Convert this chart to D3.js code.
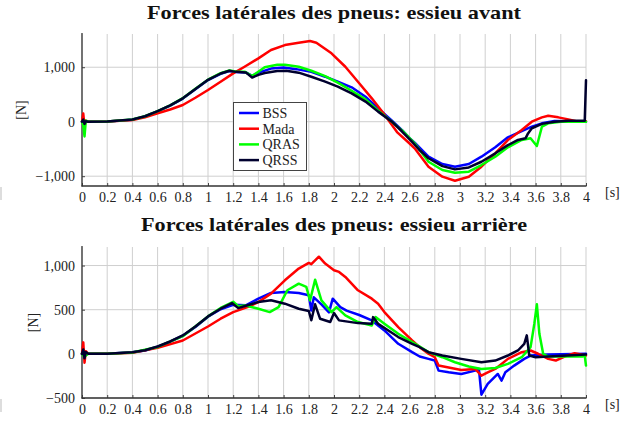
<!DOCTYPE html>
<html><head><meta charset="utf-8">
<script src="https://cdn.jsdelivr.net/npm/d3@7"></script>
<style>
body{margin:0;background:#fff;}
svg, svg text{font-family:'Liberation Serif','DejaVu Serif',serif !important;}
</style></head>
<body><svg id="c" width="623" height="421"></svg>
<script>
// ---------- DATA ----------
const seriesNames = ["BSS", "Mada", "QRAS", "QRSS"];
const seriesColors = ["#0000ff", "#ff0000", "#00ff00", "#00002e"];
const xTicks = [0,0.2,0.4,0.6,0.8,1,1.2,1.4,1.6,1.8,2,2.2,2.4,2.6,2.8,3,3.2,3.4,3.6,3.8,4];
const frontYTicks = [-1000, 0, 1000];
const rearYTicks = [-500, 0, 500, 1000];
const titles = ["Forces latérales des pneus: essieu avant", "Forces latérales des pneus: essieu arrière"];

// Front axle [t, N]
const frontBSS = [[0,0],[0.01,30],[0.02,-30],[0.03,10],[0.05,0],[0.2,4],[0.4,38],[0.5,98],[0.6,190],[0.7,295],[0.8,425],[0.9,595],[1.0,765],[1.1,880],[1.17,930],[1.22,912],[1.3,905],[1.35,840],[1.4,900],[1.5,975],[1.6,995],[1.7,965],[1.82,915],[1.93,826],[2.03,734],[2.14,631],[2.25,459],[2.35,245],[2.46,18],[2.54,-153],[2.6,-300],[2.64,-385],[2.75,-642],[2.86,-776],[2.96,-826],[3.07,-776],[3.17,-642],[3.28,-470],[3.38,-287],[3.49,-171],[3.57,-92],[3.65,-30],[3.75,12],[3.9,10],[4.0,0]];
const frontMada = [[0,0],[0.01,150],[0.02,-90],[0.03,20],[0.05,0],[0.2,3],[0.4,30],[0.5,80],[0.6,155],[0.7,225],[0.8,306],[0.9,440],[1.0,582],[1.1,734],[1.2,887],[1.29,1009],[1.4,1163],[1.5,1316],[1.61,1407],[1.72,1450],[1.81,1481],[1.86,1450],[1.98,1255],[2.09,1009],[2.19,734],[2.3,429],[2.4,130],[2.5,-190],[2.6,-400],[2.64,-489],[2.75,-826],[2.86,-1009],[2.96,-1083],[3.07,-1009],[3.17,-826],[3.28,-580],[3.38,-336],[3.49,-153],[3.57,0],[3.65,80],[3.7,110],[3.78,80],[3.86,43],[3.94,0],[4.0,10]];
const frontQRAS = [[0,0],[0.01,-60],[0.02,-270],[0.03,20],[0.05,0],[0.2,5],[0.4,40],[0.5,100],[0.6,195],[0.7,300],[0.8,432],[0.9,605],[1.0,772],[1.1,890],[1.17,940],[1.22,920],[1.29,918],[1.35,838],[1.45,998],[1.55,1046],[1.61,1046],[1.72,1009],[1.82,936],[1.93,838],[2.03,716],[2.14,569],[2.25,411],[2.35,202],[2.46,0],[2.51,-104],[2.55,-180],[2.6,-300],[2.64,-397],[2.75,-734],[2.86,-886],[2.96,-936],[3.07,-917],[3.17,-795],[3.28,-642],[3.38,-470],[3.49,-336],[3.56,-305],[3.61,-446],[3.65,-92],[3.7,-30],[3.8,0],[4.0,0]];
const frontQRSS = [[0,0],[0.01,40],[0.02,-40],[0.03,10],[0.05,0],[0.2,5],[0.4,40],[0.5,100],[0.6,195],[0.7,300],[0.8,430],[0.9,600],[1.0,770],[1.1,885],[1.17,935],[1.22,915],[1.3,905],[1.35,810],[1.4,860],[1.45,895],[1.55,930],[1.62,935],[1.72,900],[1.82,825],[1.93,735],[2.03,645],[2.14,520],[2.25,370],[2.35,185],[2.46,0],[2.54,-180],[2.62,-370],[2.68,-520],[2.75,-670],[2.86,-815],[2.96,-875],[3.07,-840],[3.17,-735],[3.28,-580],[3.38,-430],[3.46,-335],[3.52,-305],[3.54,-215],[3.57,-120],[3.65,-40],[3.75,0],[3.86,18],[3.99,18],[4.0,760]];

// Rear axle [t, N]
const rearBSS = [[0,0],[0.01,40],[0.02,-40],[0.03,10],[0.05,0],[0.2,2],[0.4,17],[0.5,38],[0.6,80],[0.7,138],[0.8,205],[0.9,305],[1.0,420],[1.1,505],[1.2,555],[1.3,549],[1.4,625],[1.5,690],[1.61,701],[1.72,690],[1.8,663],[1.82,490],[1.84,640],[1.9,560],[1.96,470],[1.99,625],[2.05,530],[2.1,490],[2.2,440],[2.3,378],[2.4,265],[2.51,114],[2.62,19],[2.68,-30],[2.75,-57],[2.8,-76],[2.83,-190],[2.91,-209],[3.01,-228],[3.12,-190],[3.15,-171],[3.17,-463],[3.22,-341],[3.3,-228],[3.33,-303],[3.36,-209],[3.43,-133],[3.51,-57],[3.56,-19],[3.7,-8],[4.0,1]];
const rearMada = [[0,0],[0.01,130],[0.02,-100],[0.03,30],[0.05,0],[0.2,2],[0.4,12],[0.6,68],[0.8,151],[1.0,310],[1.1,398],[1.2,473],[1.33,538],[1.4,587],[1.5,682],[1.61,833],[1.72,966],[1.8,1030],[1.82,1015],[1.88,1100],[1.93,1022],[2.0,947],[2.04,928],[2.09,871],[2.19,720],[2.3,625],[2.35,568],[2.4,473],[2.51,303],[2.62,152],[2.68,76],[2.75,1],[2.8,-38],[2.83,-133],[2.9,-152],[3.01,-182],[3.12,-171],[3.17,-247],[3.22,-209],[3.28,-171],[3.33,-114],[3.38,-57],[3.49,19],[3.56,38],[3.62,1],[3.7,-57],[3.76,-76],[3.83,-30],[3.91,8],[4.0,-19]];
const rearQRAS = [[0,0],[0.01,-20],[0.02,-30],[0.05,0],[0.2,2],[0.4,15],[0.6,78],[0.8,200],[1.0,424],[1.1,520],[1.2,590],[1.24,540],[1.29,549],[1.4,511],[1.49,473],[1.56,530],[1.63,720],[1.72,795],[1.78,758],[1.81,606],[1.85,840],[1.9,606],[1.98,473],[2.02,530],[2.09,435],[2.19,360],[2.3,322],[2.33,416],[2.4,341],[2.51,227],[2.62,132],[2.68,83],[2.75,19],[2.86,-38],[2.96,-95],[3.07,-144],[3.17,-171],[3.28,-160],[3.38,-114],[3.49,-38],[3.56,76],[3.59,341],[3.61,561],[3.63,227],[3.66,1],[3.7,-30],[3.97,-30],[3.99,-19],[4.0,-133]];
const rearQRSS = [[0,0],[0.01,50],[0.02,-50],[0.03,20],[0.05,0],[0.2,2],[0.4,18],[0.5,40],[0.6,83],[0.7,140],[0.8,208],[0.9,310],[1.0,424],[1.1,511],[1.19,575],[1.24,518],[1.3,545],[1.4,587],[1.5,606],[1.61,568],[1.72,511],[1.8,485],[1.82,380],[1.85,561],[1.89,397],[1.97,360],[2.0,462],[2.04,379],[2.19,348],[2.3,341],[2.31,416],[2.35,341],[2.51,190],[2.62,114],[2.68,75],[2.75,19],[2.86,-19],[3.01,-57],[3.17,-95],[3.28,-76],[3.38,-19],[3.46,38],[3.51,114],[3.53,209],[3.55,-19],[3.6,-38],[3.7,-30],[4.0,-8]];

// ---------- DRAW ----------
const FONT = "'Liberation Serif','DejaVu Serif',serif";
const svg = d3.select("#c");
const fmt = d => d === 0 ? "0" : (d < 0 ? "\u2212" : "") + d3.format(",")(Math.abs(d));

function panel(cfg) {
  const g = svg.append("g");
  const x = d3.scaleLinear().domain([0, 4]).range([82, 586]);
  const y = d3.scaleLinear().domain(cfg.yDomain).range([cfg.bottom, cfg.top]);
  g.selectAll(".vg").data(xTicks).join("line")
    .attr("x1", d => x(d)).attr("x2", d => x(d)).attr("y1", cfg.top).attr("y2", cfg.bottom)
    .attr("stroke", "#cfcfcf").attr("stroke-width", 1);
  g.selectAll(".hg").data(cfg.yTicks).join("line")
    .attr("x1", 82).attr("x2", 586).attr("y1", d => y(d)).attr("y2", d => y(d))
    .attr("stroke", "#cfcfcf").attr("stroke-width", 1);
  const xa = g.append("g").attr("transform", `translate(0,${cfg.bottom})`)
    .call(d3.axisBottom(x).tickValues(xTicks).tickSize(-3).tickPadding(6).tickFormat(d => String(d)));
  const ya = g.append("g").attr("transform", "translate(82,0)")
    .call(d3.axisLeft(y).tickValues(cfg.yTicks).tickSize(-3).tickPadding(7).tickFormat(fmt));
  [xa, ya].forEach(a => {
    a.attr("font-family", null);
    a.select(".domain").remove();
    a.selectAll("line").attr("stroke", "#444");
    a.selectAll("text").attr("font-size", 14).attr("fill", "#222").style("font-family", FONT);
  });
  g.append("line").attr("x1", 82).attr("x2", 82).attr("y1", cfg.top - 1).attr("y2", cfg.bottom + 0.5)
    .attr("stroke", "#333").attr("stroke-width", 1.3);
  g.append("line").attr("x1", 81.5).attr("x2", 586.5).attr("y1", cfg.bottom).attr("y2", cfg.bottom)
    .attr("stroke", "#333").attr("stroke-width", 1.3);
  const cid = "clip" + cfg.id;
  svg.append("clipPath").attr("id", cid).append("rect")
    .attr("x", 80).attr("y", cfg.top - 2).attr("width", 512).attr("height", cfg.bottom - cfg.top + 2);
  const line = d3.line().x(d => x(d[0])).y(d => y(d[1]));
  const lg = g.append("g").attr("clip-path", `url(#${cid})`);
  cfg.series.forEach((s, i) => {
    lg.append("path").datum(s).attr("d", line).attr("fill", "none")
      .attr("stroke", seriesColors[i]).attr("stroke-width", 2.5)
      .attr("stroke-linejoin", "round").attr("stroke-linecap", "round");
  });
  g.append("text").attr("x", 334).attr("y", cfg.titleY).attr("text-anchor", "middle")
    .attr("font-size", 19).attr("font-weight", "bold").attr("fill", "#111").style("font-family", FONT)
    .attr("textLength", cfg.titleW).attr("lengthAdjust", "spacingAndGlyphs").text(cfg.title);
  g.append("text").attr("transform", `translate(${cfg.ylabX},${(cfg.top + cfg.bottom) / 2}) rotate(-90)`)
    .attr("text-anchor", "middle").attr("dy", "0.35em").attr("font-size", 14).attr("fill", "#222")
    .style("font-family", FONT).text("[N]");
  g.append("text").attr("x", 605).attr("y", cfg.bottom + 11).attr("font-size", 14).attr("fill", "#222")
    .style("font-family", FONT).text("[s]");
  g.append("rect").attr("x", 0).attr("y", cfg.bottom + 1).attr("width", 2).attr("height", 13).attr("fill", "#dddddd");
}

panel({id: 1, top: 34, bottom: 186, yDomain: [-1180, 1610], yTicks: frontYTicks, title: titles[0], titleY: 18.5, titleW: 374, ylabX: 21,
  series: [frontBSS, frontMada, frontQRAS, frontQRSS]});
panel({id: 2, top: 247, bottom: 398, yDomain: [-500, 1210], yTicks: rearYTicks, title: titles[1], titleY: 230.5, titleW: 386, ylabX: 33,
  series: [rearBSS, rearMada, rearQRAS, rearQRSS]});

const leg = svg.append("g");
leg.append("rect").attr("x", 233.5).attr("y", 102.5).attr("width", 73).attr("height", 68)
  .attr("fill", "#fff").attr("stroke", "#444").attr("stroke-width", 1);
seriesNames.forEach((n, i) => {
  const yy = 113 + i * 15.7;
  leg.append("line").attr("x1", 239).attr("x2", 259).attr("y1", yy).attr("y2", yy)
    .attr("stroke", seriesColors[i]).attr("stroke-width", 2.5);
  leg.append("text").attr("x", 262.5).attr("y", yy + 5).attr("font-size", 14).attr("fill", "#222")
    .style("font-family", FONT).text(n);
});
</script></body></html>
